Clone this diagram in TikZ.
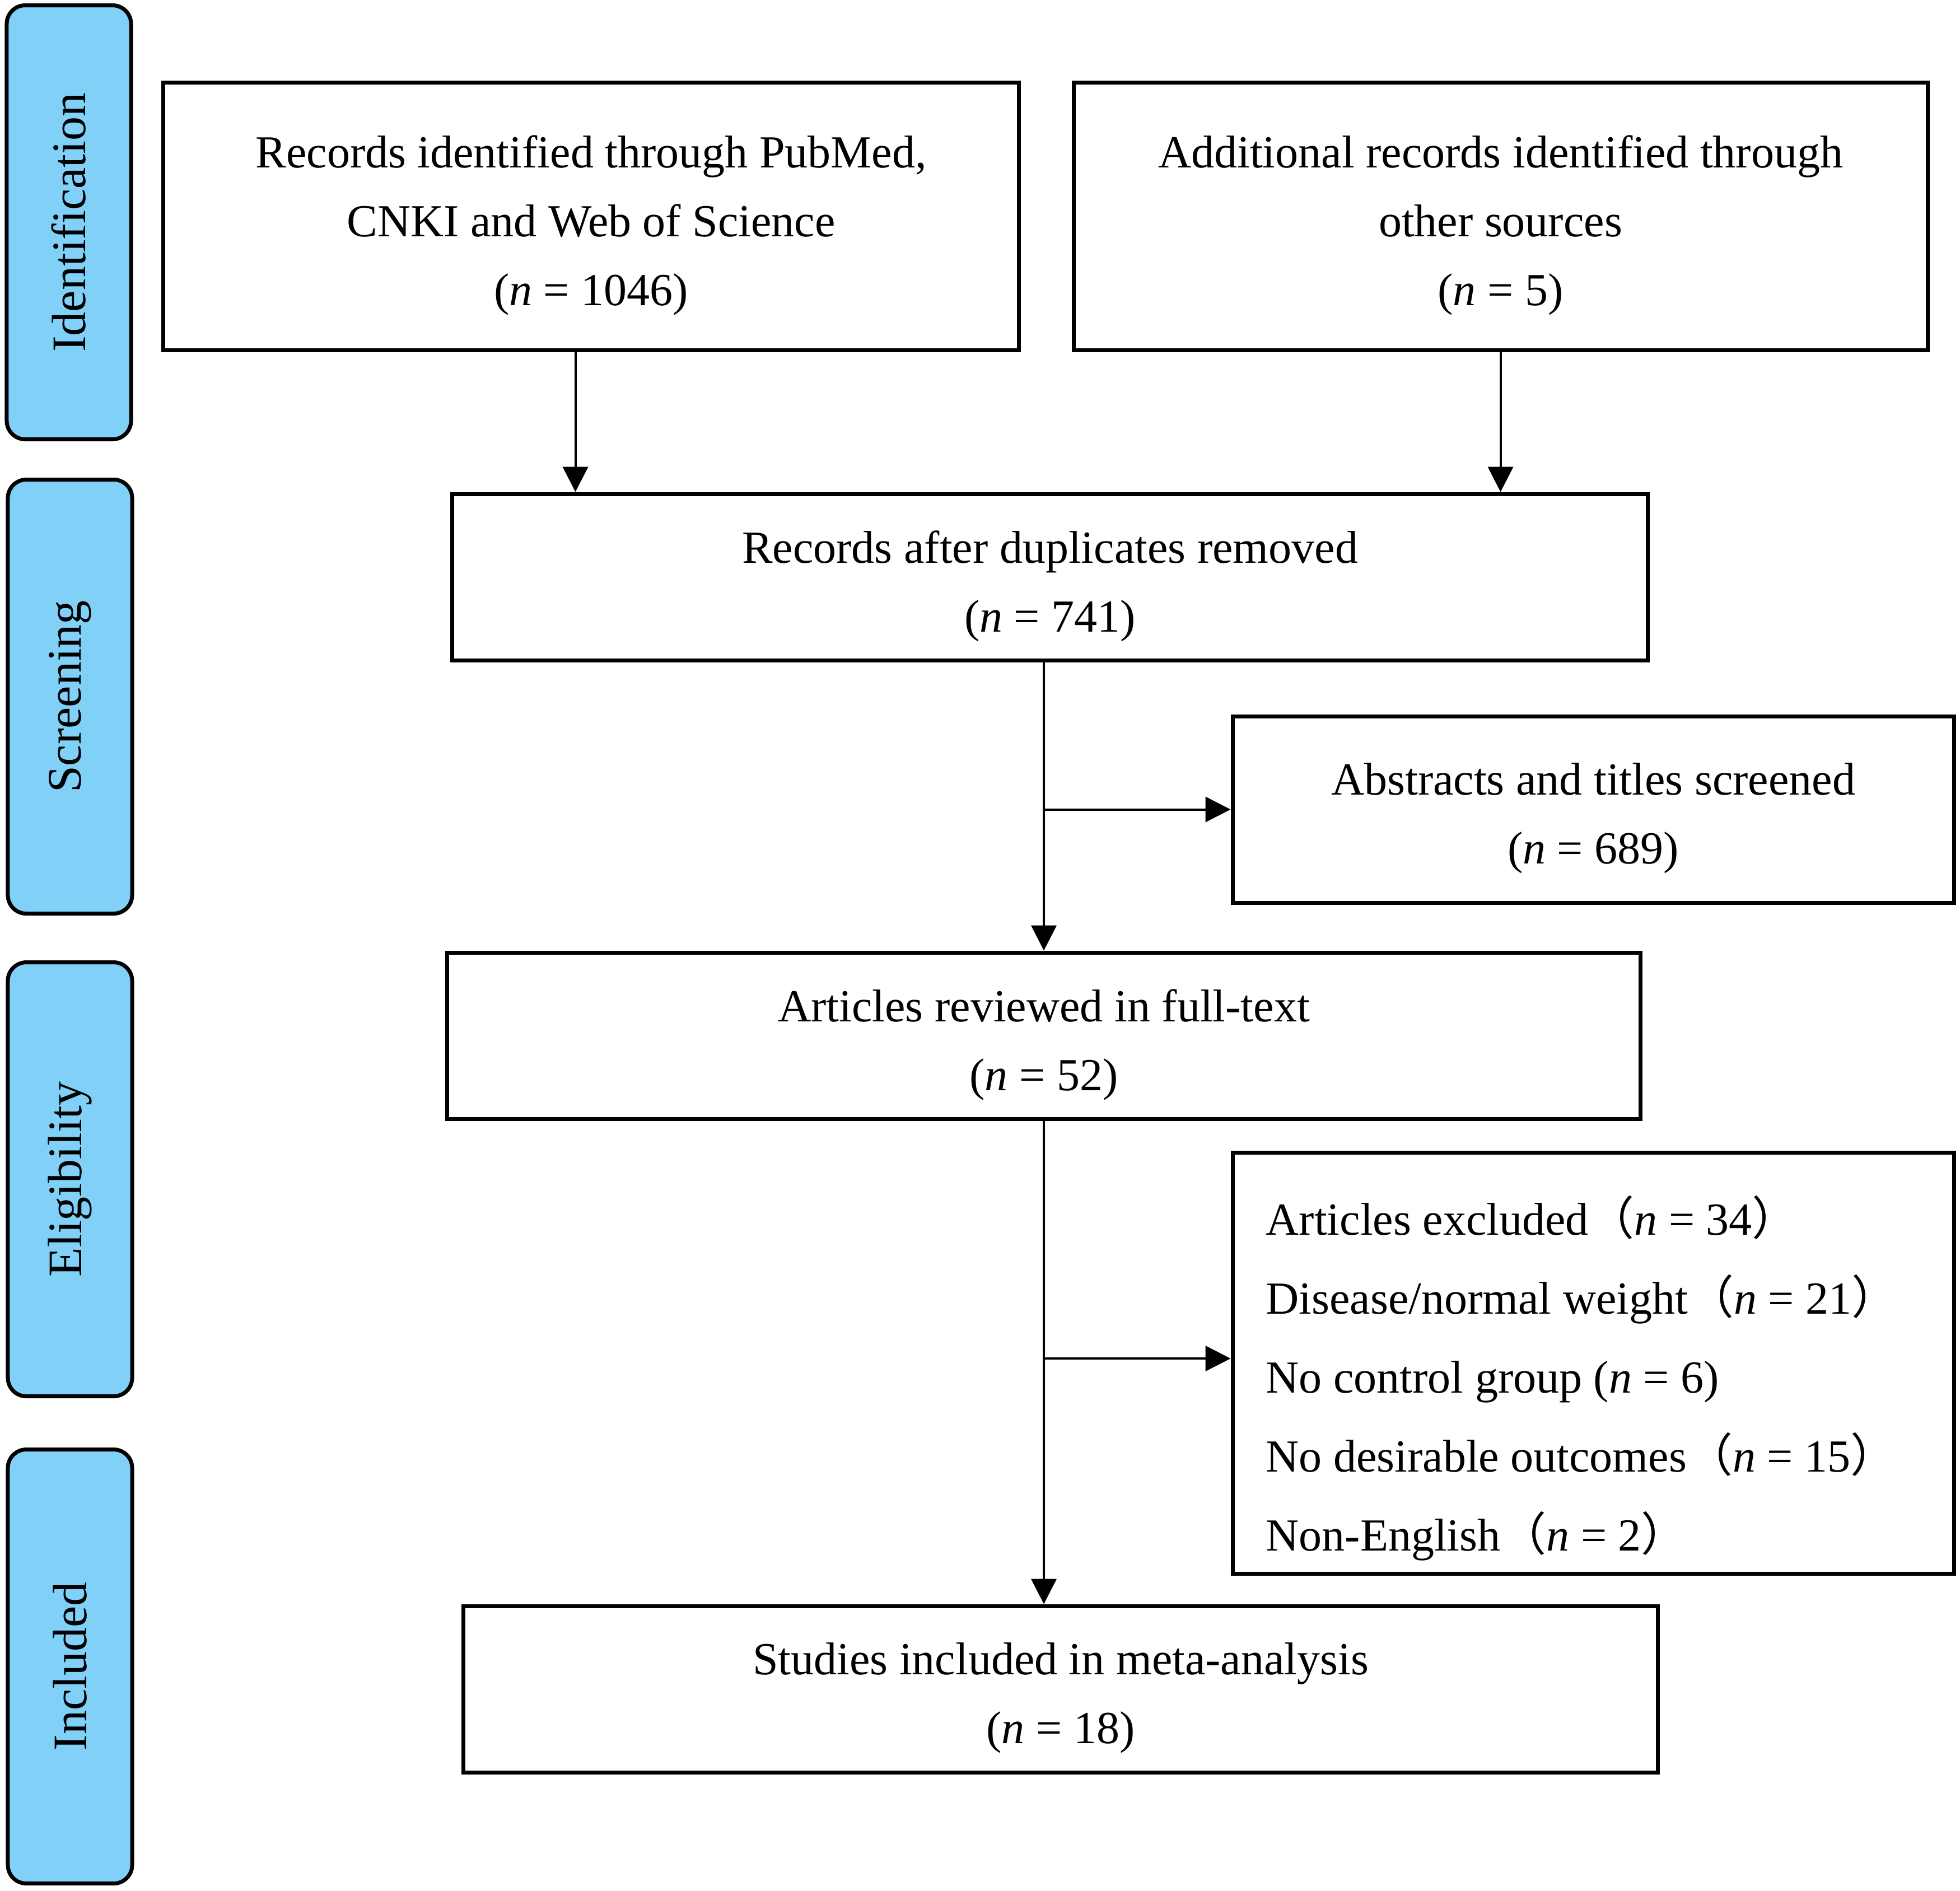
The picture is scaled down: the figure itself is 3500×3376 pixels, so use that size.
\documentclass[tikz,border=0pt]{standalone}
\usepackage{fontspec}
\setmainfont{Liberation Serif}
\newfontfamily\cjkfont{Noto Sans CJK SC}
\usetikzlibrary{arrows.meta,calc}
\definecolor{barblue}{RGB}{128,208,248}
\newcommand{\fwl}{{\cjkfont （}}
\newcommand{\fwr}{{\cjkfont ）}}
\newcommand{\nn}{\textit{n}}
\tikzset{
  boxnode/.style={draw=black, line width=1.4pt, fill=white, inner sep=0pt},
  boxtext/.style={align=center, inner sep=0pt, yshift=-3.2pt,
    font=\fontsize{16.4pt}{24.6pt}\selectfont},
  barnode/.style={draw=black, line width=1.4pt, fill=barblue, rounded corners=6.6pt,
    minimum width=44.4pt, minimum height=155pt, inner sep=0pt},
  barlabel/.style={rotate=90, font=\fontsize{17.2pt}{20pt}\selectfont, inner sep=0pt},
  flowarrow/.style={line width=0.8pt, -{Triangle[length=9pt,width=9pt]}}
}
\begin{document}
\begin{tikzpicture}[x=0.2pt,y=-0.2pt]
\useasboundingbox (0,0) rectangle (3500,3376);

% phase bars
\node[barnode] (b1) at (123,397) {};
\node[barlabel] (l1) at (b1.center) {Identification};
\node[barnode] (b2) at (125,1244) {};
\node[barlabel] (l2) at (b2.center) {Screening};
\node[barnode] (b3) at (125,2106) {};
\node[barlabel] (l3) at (b3.center) {Eligibility};
\node[barnode] (b4) at (125,2976) {};
\node[barlabel] (l4) at (b4.center) {Included};

% boxes
\node[boxnode, minimum width=305.4pt, minimum height=95.6pt,
  label={[boxtext]center:{Records identified through PubMed,\\CNKI and Web of Science\\(\nn{} = 1046)}}]
  (A) at (1055.5,386) {};
\node[boxnode, minimum width=305pt, minimum height=95.6pt,
  label={[boxtext]center:{Additional records identified through\\other sources\\(\nn{} = 5)}}]
  (B) at (2679.5,386) {};
\node[boxnode, minimum width=426.8pt, minimum height=59.4pt,
  label={[boxtext]center:{Records after duplicates removed\\(\nn{} = 741)}}]
  (C) at (1875,1030.5) {};
\node[boxnode, minimum width=257.6pt, minimum height=66.6pt,
  label={[boxtext]center:{Abstracts and titles screened\\(\nn{} = 689)}}]
  (D) at (2845,1445.5) {};
\node[boxnode, minimum width=426pt, minimum height=59.4pt,
  label={[boxtext]center:{Articles reviewed in full-text\\(\nn{} = 52)}}]
  (E) at (1864,1849.5) {};
\node[boxnode, minimum width=257.6pt, minimum height=150.4pt] (F) at (2845,2434) {};
\node[anchor=west, align=left, inner sep=0pt, font=\fontsize{16.4pt}{28.2pt}\selectfont]
  (Ft) at ($(F.west)+(62,27)$)
  {Articles excluded\fwl\nn{} = 34\fwr\\
   Disease/normal weight\fwl\nn{} = 21\fwr\\
   No control group (\nn{} = 6)\\
   No desirable outcomes\fwl\nn{} = 15\fwr\\
   Non-English\fwl\nn{} = 2\fwr};
\node[boxnode, minimum width=426.4pt, minimum height=59.4pt,
  label={[boxtext]center:{Studies included in meta-analysis\\(\nn{} = 18)}}]
  (G) at (1894,3016.5) {};

% connectors
\coordinate (a1) at ($(A.south)+(-28,0)$);
\draw[flowarrow] (a1) -- (a1 |- C.north);
\draw[flowarrow] (B.south) -- (B.south |- C.north);
\draw[flowarrow] (C.south -| E.north) -- (E.north);
\draw[flowarrow] (D.west -| E.north) -- (D.west);
\draw[flowarrow] (E.south) -- (E.south |- G.north);
\draw[flowarrow] (F.west -| E.south) ++(0,-8) -- ($(F.west)+(0,-8)$);
\end{tikzpicture}
\end{document}
